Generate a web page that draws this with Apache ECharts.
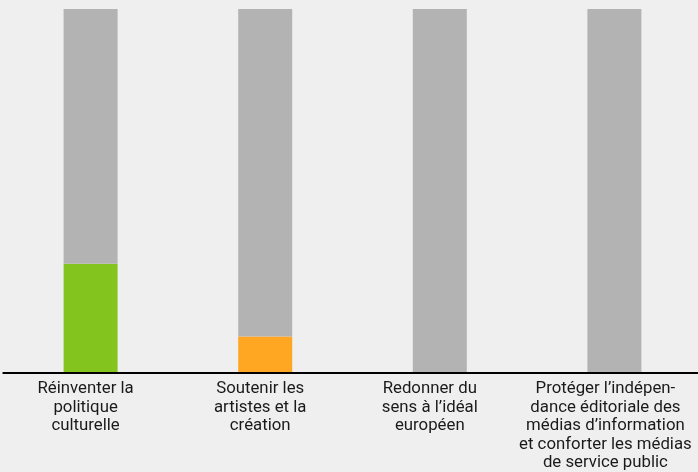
<!DOCTYPE html>
<html>
<head>
<meta charset="utf-8">
<script src="https://cdn.jsdelivr.net/npm/echarts@6/dist/echarts.min.js"></script>
<style>
  html, body { margin: 0; padding: 0; background: #efefef; }
  #chart { width: 698px; height: 472px; }
</style>
</head>
<body>
<div id="chart"></div>
<script>
// categories (line breaks as in the original)
const categories = [
  'Réinventer la\npolitique\nculturelle',
  'Soutenir les\nartistes et la\ncréation',
  'Redonner du\nsens à l’idéal\neuropéen',
  'Protéger l’indépen-\ndance éditoriale des\nmédias d’information\net conforter les médias\nde service public'
]
// share in percent, and the remainder shown in gray
const values = [30, 10, 0, 0]
const remainder = [70, 90, 100, 100]
const barColors = ['#84c41e', '#ffa623', '#84c41e', '#84c41e']

// labels sit a bit left of their bars in the original
const labelShift = [5, 5, 10, 9]
const labelFont = { color: '#1a1a1a', fontFamily: 'Roboto', fontSize: 16.8, lineHeight: 18.4 }
const rich = {}
labelShift.forEach((s, i) => {
  rich['l' + i] = Object.assign({ padding: [0, s * 2, 0, 0] }, labelFont)
})

const chart = echarts.init(document.getElementById('chart'))
chart.setOption({
  backgroundColor: '#efefef',
  animation: false,
  grid: {
    left: 3.3,
    width: 698.4,
    top: 9,
    bottom: 99,
    containLabel: false,
    outerBoundsMode: 'none'
  },
  xAxis: {
    type: 'category',
    data: categories,
    z: 5,
    axisLine: { lineStyle: { color: '#000', width: 2 } },
    axisTick: { show: false },
    axisLabel: Object.assign({
      interval: 0,
      margin: 7,
      rich: rich,
      formatter: (value, index) => value.split('\n').map(l => `{l${index}|${l}}`).join('\n')
    }, labelFont)
  },
  yAxis: {
    type: 'value',
    min: 0,
    max: 100,
    show: false
  },
  series: [
    {
      type: 'bar',
      stack: 'total',
      barWidth: 54,
      data: values.map((v, i) => ({ value: v, itemStyle: { color: barColors[i] } }))
    },
    {
      type: 'bar',
      stack: 'total',
      barWidth: 54,
      itemStyle: { color: '#b3b3b3' },
      data: remainder
    }
  ]
})
</script>
</body>
</html>
